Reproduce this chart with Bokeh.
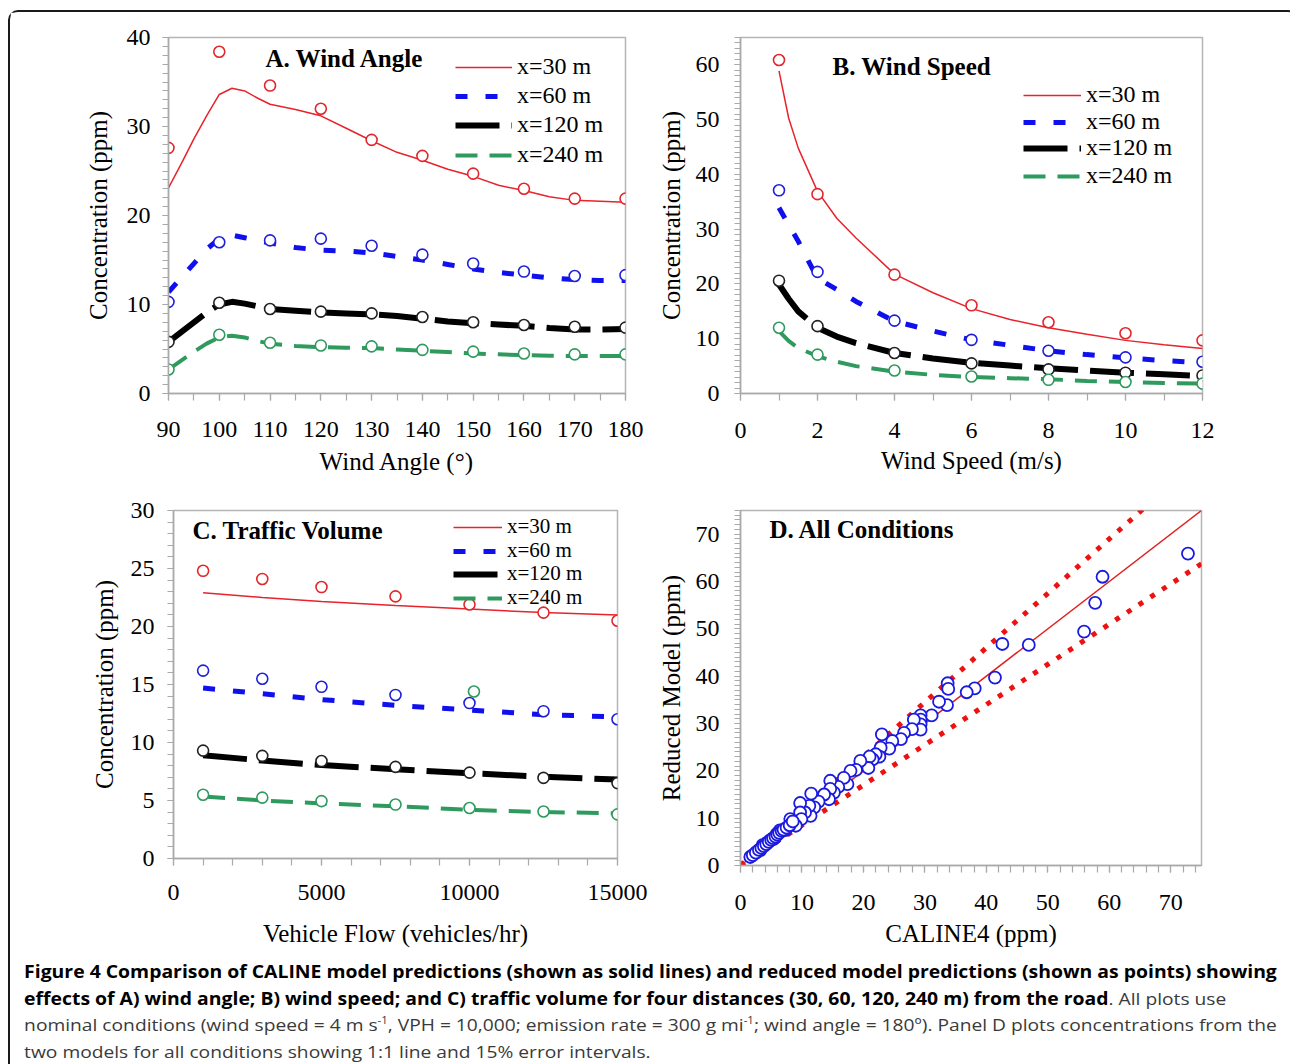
import numpy as np
from bokeh.plotting import figure
from bokeh.models import Range1d, SingleIntervalTicker, Label, Legend, LegendItem, Div
from bokeh.layouts import column, row
from bokeh.embed import file_html
from bokeh.resources import INLINE

# ---------------- data ----------------
# Panel A: wind angle
angle_line = [90, 92.5, 95, 97.5, 100, 102.5, 105, 107.5, 110, 115, 120, 125, 130, 135, 140, 145, 150, 155, 160, 165, 170, 175, 180]
a_line_30 = [23.1, 25.8, 28.6, 31.2, 33.6, 34.3, 34.0, 33.2, 32.5, 31.9, 31.2, 29.8, 28.4, 27.1, 26.2, 25.2, 24.4, 23.4, 22.8, 22.1, 21.7, 21.6, 21.5]
a_line_60 = [11.4, 13.0, 14.6, 16.2, 17.4, 17.8, 17.5, 17.2, 16.9, 16.4, 16.1, 16.0, 15.8, 15.4, 15.0, 14.5, 14.0, 13.6, 13.3, 13.0, 12.8, 12.7, 12.7]
a_line_120 = [5.8, 6.9, 8.0, 9.1, 10.0, 10.3, 10.1, 9.8, 9.5, 9.3, 9.1, 9.0, 8.9, 8.7, 8.4, 8.1, 7.9, 7.75, 7.6, 7.35, 7.2, 7.2, 7.25]
a_line_240 = [2.7, 3.7, 4.7, 5.6, 6.3, 6.5, 6.3, 5.9, 5.6, 5.35, 5.2, 5.15, 5.1, 4.95, 4.8, 4.65, 4.5, 4.4, 4.3, 4.25, 4.2, 4.2, 4.2]
angle_pts = [90, 100, 110, 120, 130, 140, 150, 160, 170, 180]
a_pts_30 = [27.6, 38.4, 34.6, 32.0, 28.5, 26.7, 24.7, 23.0, 21.9, 21.9]
a_pts_60 = [10.3, 17.0, 17.2, 17.4, 16.6, 15.6, 14.6, 13.7, 13.2, 13.3]
a_pts_120 = [5.8, 10.2, 9.5, 9.2, 9.0, 8.6, 8.0, 7.7, 7.5, 7.4]
a_pts_240 = [2.7, 6.6, 5.7, 5.4, 5.3, 4.9, 4.7, 4.5, 4.4, 4.4]

# Panel B: wind speed
speed_line = [1, 1.25, 1.5, 2, 2.5, 3, 4, 5, 6, 7, 8, 9, 10, 11, 12]
b_line_30 = [58.9, 50.3, 44.8, 36.9, 32.0, 28.4, 21.8, 18.4, 15.5, 13.5, 12.0, 10.8, 9.7, 8.9, 8.2]
b_line_60 = [33.9, 30.8, 27.8, 21.0, 19.0, 16.8, 13.2, 11.4, 9.8, 8.8, 7.8, 7.1, 6.5, 6.0, 5.6]
b_line_120 = [19.9, 17.3, 15.0, 12.0, 10.4, 9.2, 7.4, 6.4, 5.6, 5.1, 4.6, 4.2, 3.8, 3.5, 3.2]
b_line_240 = [11.4, 9.6, 8.3, 6.8, 5.8, 5.0, 4.0, 3.4, 3.0, 2.8, 2.6, 2.3, 2.1, 1.9, 1.8]
speed_pts = [1, 2, 4, 6, 8, 10, 12]
b_pts_30 = [60.9, 36.4, 21.7, 16.1, 13.0, 11.0, 9.7]
b_pts_60 = [37.1, 22.2, 13.3, 9.8, 7.8, 6.6, 5.8]
b_pts_120 = [20.6, 12.3, 7.4, 5.5, 4.4, 3.8, 3.3]
b_pts_240 = [12.0, 7.1, 4.2, 3.1, 2.5, 2.1, 1.8]

# Panel C: traffic volume
flow = [1000, 3000, 5000, 7500, 10000, 12500, 15000]
c_line_30 = [22.9, 22.5, 22.15, 21.8, 21.5, 21.2, 21.0]
c_line_60 = [14.7, 14.2, 13.7, 13.2, 12.8, 12.4, 12.2]
c_line_120 = [8.9, 8.45, 8.05, 7.7, 7.35, 7.05, 6.8]
c_line_240 = [5.35, 5.0, 4.75, 4.5, 4.2, 4.0, 3.9]
c_pts_30 = [24.8, 24.1, 23.4, 22.6, 21.9, 21.2, 20.5]
c_pts_60 = [16.2, 15.5, 14.8, 14.1, 13.4, 12.7, 12.0]
c_pts_120 = [9.3, 8.85, 8.4, 7.9, 7.4, 6.95, 6.5]
c_pts_240 = [5.5, 5.25, 4.95, 4.65, 4.35, 4.05, 3.8]
c_extra_x = [10150]
c_extra_y = [14.4]

# Panel D: all conditions (CALINE4 vs reduced model)
d_caline = [72.8, 58.9, 57.7, 55.9, 46.9, 42.6, 41.4, 38.1, 36.8, 33.7, 33.8, 33.6, 32.3, 31.1,
            29.3, 29.3, 29.3, 29.3, 28.2, 27.9, 26.6, 26.1, 24.7, 24.2, 23.0, 22.8, 22.6, 22.0,
            21.5, 21.0, 20.8, 19.5, 18.8, 17.9, 17.4, 16.8, 15.9, 15.2, 14.6, 14.6, 14.4, 13.6,
            12.7, 12.0, 11.5, 11.4, 11.2, 10.5, 9.7, 9.7, 9.9, 9.0, 8.1, 7.3, 6.4, 5.9, 5.4, 4.8,
            4.3, 3.6, 3.2, 2.6, 1.6, 2.0, 2.5, 3.0, 3.4, 3.8, 4.2, 4.6, 5.0, 5.3, 5.7, 6.0, 6.3,
            6.7, 7.0, 7.5, 8.0, 8.5]
d_reduced = [65.9, 61.0, 55.5, 49.4, 46.6, 46.8, 39.7, 37.4, 36.6, 38.5, 37.3, 33.9, 34.6, 31.7,
             31.7, 30.8, 29.8, 28.7, 30.8, 28.8, 28.0, 26.7, 26.3, 24.7, 27.7, 24.9, 23.0, 23.5,
             22.4, 23.0, 20.6, 22.1, 20.2, 20.0, 17.2, 18.5, 16.6, 15.4, 17.9, 16.2, 14.0, 15.0,
             13.5, 12.3, 15.2, 10.5, 12.6, 11.2, 13.2, 11.2, 9.8, 8.4, 9.8, 7.5, 7.4, 6.7, 5.6, 5.3,
             4.8, 4.3, 3.2, 2.8, 1.8, 2.2, 2.7, 3.3, 3.7, 4.1, 4.5, 5.0, 5.4, 5.8, 6.1, 6.5, 6.9,
             7.3, 7.6, 8.0, 8.5, 9.3]
ref_x = [0, 75]
ratio_one, ratio_hi, ratio_lo = 1.0, 1.15, 0.85

legend_labels = ["x=30 m", "x=60 m", "x=120 m", "x=240 m"]

# ---------------- styles ----------------
SERIF = "Liberation Serif"
RED, BLUE, BLACK, GREEN = "#e8232b", "#1010ee", "#000000", "#2f9a5e"
PRED, PBLUE, PBLACK, PGREEN = "#e3262c", "#2020d8", "#222222", "#2f9a5e"
GRAY = "#a9a9a9"
LINE_STYLES = [
    dict(line_color=RED, line_width=1.5, line_dash="solid"),
    dict(line_color=BLUE, line_width=5, line_dash="12 18"),
    dict(line_color=BLACK, line_width=6, line_dash="44 12"),
    dict(line_color=GREEN, line_width=4, line_dash="22 12"),
]
PT_COLORS = [PRED, PBLUE, PBLACK, PGREEN]


def make_fig(xr, yr, fw, fh, bl, br, bt, bb, xtick, xminor, ytick, yminor,
             xlabel, ylabel, x_std, xl_std, y_std, yl_std):
    p = figure(frame_width=fw, frame_height=fh, x_range=Range1d(*xr), y_range=Range1d(*yr),
               min_border_left=bl, min_border_right=br, min_border_top=bt, min_border_bottom=bb,
               output_backend="svg", toolbar_location=None, tools="")
    p.grid.visible = False
    p.outline_line_color = "#b5b5b5"
    p.outline_line_width = 1.5
    p.background_fill_color = "white"
    p.border_fill_color = "white"
    p.xaxis.ticker = SingleIntervalTicker(interval=xtick, num_minor_ticks=xminor)
    p.yaxis.ticker = SingleIntervalTicker(interval=ytick, num_minor_ticks=yminor)
    for ax in (p.xaxis[0], p.yaxis[0]):
        ax.axis_line_color = GRAY
        ax.axis_line_width = 1.5
        ax.major_tick_line_color = GRAY
        ax.minor_tick_line_color = GRAY
        ax.major_tick_line_width = 1.2
        ax.minor_tick_line_width = 1.2
        ax.major_tick_in = 0
        ax.minor_tick_in = 0
        ax.major_label_text_font = SERIF
        ax.major_label_text_font_size = "24px"
        ax.major_label_text_color = "black"
        ax.axis_label_text_font = SERIF
        ax.axis_label_text_font_size = "25px"
        ax.axis_label_text_font_style = "normal"
        ax.axis_label_text_color = "black"
    p.xaxis.major_tick_out = 7
    p.xaxis.minor_tick_out = 7
    p.yaxis.major_tick_out = 6
    p.yaxis.minor_tick_out = 6
    p.xaxis.axis_label = xlabel
    p.yaxis.axis_label = ylabel
    p.xaxis.major_label_standoff = x_std
    p.xaxis.axis_label_standoff = xl_std
    p.yaxis.major_label_standoff = y_std
    p.yaxis.axis_label_standoff = yl_std
    return p


def add_series(p, xl, lines, xp, pts, vx, vys, gw, fsize="24px"):
    rends = []
    for ys, st in zip(lines, LINE_STYLES):
        rends.append(p.line(xl, ys, **st))
    for ys, c in zip(pts, PT_COLORS):
        p.scatter(xp, ys, marker="circle", size=11, fill_color="white", line_color=c, line_width=1.6)
    for lab, r, vy in zip(legend_labels, rends, vys):
        leg = Legend(items=[LegendItem(label=lab, renderers=[r])], location=(vx, vy),
                     glyph_width=gw, glyph_height=18, label_height=18, label_standoff=5,
                     spacing=0, padding=4, margin=0, border_line_color=None,
                     background_fill_alpha=0, label_text_font=SERIF, label_text_font_size=fsize,
                     label_text_color="black")
        p.add_layout(leg)
    return p


def add_title(p, x, y, text):
    p.add_layout(Label(x=x, y=y, text=text, text_font=SERIF, text_font_size="25px",
                       text_font_style="bold", text_baseline="middle", text_align="left",
                       text_color="black"))


# Panel A
pA = make_fig((90, 180), (0, 40), 457, 356, 158, 25, 24, 93, 10, 2, 10, 10,
              "Wind Angle (°)", "Concentration (ppm)", 21, 8, 12, 12)
add_series(pA, angle_line, [a_line_30, a_line_60, a_line_120, a_line_240],
           angle_pts, [a_pts_30, a_pts_60, a_pts_120, a_pts_240], 287, [313, 284, 255, 225], 57)
add_title(pA, 109.1, 37.6, "A. Wind Angle")

# Panel B
pB = make_fig((0, 12), (0, 65), 462, 356, 90, 84, 25, 92, 2, 2, 10, 10,
              "Wind Speed (m/s)", "Concentration (ppm)", 22, 6, 15, 8)
add_series(pB, speed_line, [b_line_30, b_line_60, b_line_120, b_line_240],
           speed_pts, [b_pts_30, b_pts_60, b_pts_120, b_pts_240], 283, [285, 258, 232, 204], 58)
add_title(pB, 2.39, 59.7, "B. Wind Speed")

# Panel C
pC = make_fig((0, 15000), (0, 30), 444, 348, 163, 33, 25, 92, 5000, 5, 5, 5,
              "Vehicle Flow (vehicles/hr)", "Concentration (ppm)", 19, 17, 13, 10)
add_series(pC, flow, [c_line_30, c_line_60, c_line_120, c_line_240],
           flow, [c_pts_30, c_pts_60, c_pts_120, c_pts_240], 280, [319, 295, 272, 248], 49, "21px")
pC.scatter(c_extra_x, c_extra_y, marker="circle", size=11, fill_color="white",
           line_color=PGREEN, line_width=1.6)
add_title(pC, 642, 28.3, "C. Traffic Volume")

# Panel D
pD = make_fig((0, 75), (0, 75), 461, 355, 90, 85, 25, 85, 10, 5, 10, 10,
              "CALINE4 (ppm)", "Reduced Model (ppm)", 22, 7, 15, 8)
rx = np.array(ref_x, dtype=float)
pD.line(rx, rx * ratio_hi, line_color="#ee1111", line_width=5, line_dash="5 9")
pD.line(rx, rx * ratio_lo, line_color="#ee1111", line_width=5, line_dash="5 9")
pD.line(rx, rx * ratio_one, line_color="#e02020", line_width=1.5)
pD.scatter(d_caline, d_reduced, marker="circle", size=12, fill_color="white",
           line_color="#1a1ae0", line_width=1.8)
add_title(pD, 4.7, 71.0, "D. All Conditions")

sup = '<sup style="font-size:10px;line-height:0;vertical-align:7px">-1</sup>'
caption_html = (
    '<div style="font-family:\'Open Sans\';font-size:16.85px;line-height:26.5px;color:#3a3a3a;'
    'white-space:nowrap;padding:4px 0 0 8px;transform:scaleX(1.14);transform-origin:0 0;">'
    '<b style="color:#000;font-size:17px">Figure 4 Comparison of CALINE model predictions (shown as solid lines) and '
    'reduced model predictions (shown as points) showing</b><br>'
    '<b style="color:#000;font-size:17px">effects of A) wind angle; B) wind speed; and C) traffic volume for four '
    'distances (30, 60, 120, 240 m) from the road</b>. All plots use<br>'
    'nominal conditions (wind speed = 4 m s' + sup + ', VPH = 10,000; emission rate = 300 g mi' + sup +
    '; wind angle = 180º). Panel D plots concentrations from the<br>'
    'two models for all conditions showing 1:1 line and 15% error intervals.</div>'
)
caption = Div(text=caption_html, width=1276, height=114)

layout = column(
    row(pA, pB),
    row(pC, pD),
    caption,
    styles={"border": "2px solid #1a1a1a", "border-bottom": "none",
            "border-radius": "10px 10px 0 0", "background": "white",
            "margin": "10px 0 0 8px"},
)

open("out.html", "w").write(file_html(layout, INLINE))
